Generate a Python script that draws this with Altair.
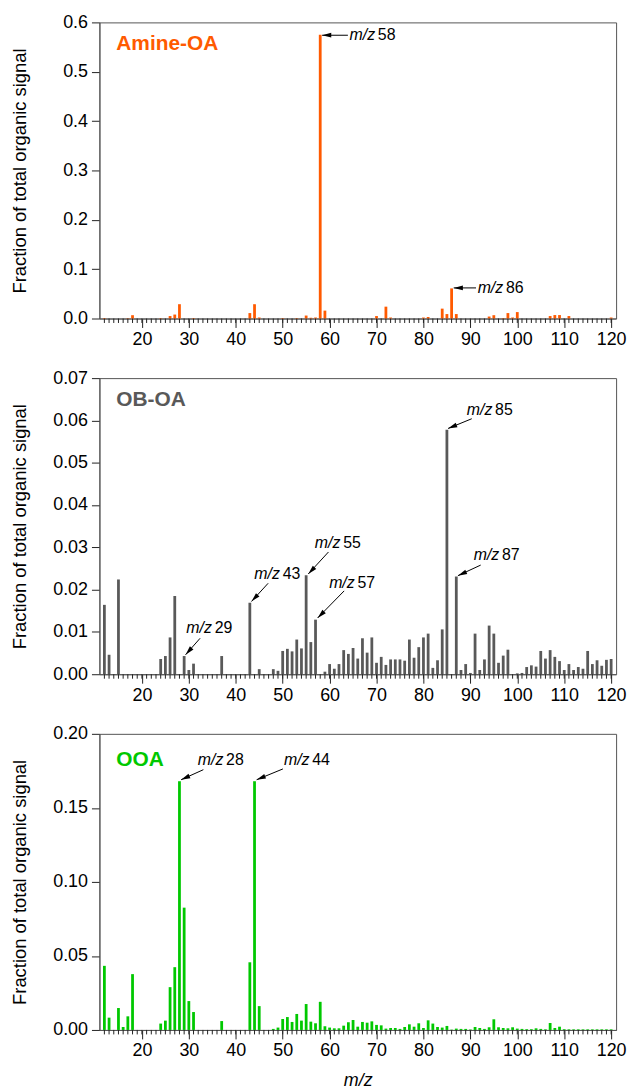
import math
import altair as alt
import pandas as pd

# ---------------- data ----------------
# Amine-OA spectrum
mz_amine = [12, 17, 18, 24, 26, 27, 28, 31, 43, 44,
            45, 50, 53, 55, 56, 57, 58, 59, 70, 72,
            73, 80, 81, 84, 85, 86, 87, 94, 95, 97,
            98, 99, 100, 107, 108, 109, 111, 120]
val_amine = [0.0010, 0.0008, 0.0067, 0.0008, 0.0050, 0.0080, 0.0290, 0.0010, 0.0110, 0.0290,
             0.0020, 0.0010, 0.0010, 0.0060, 0.0015, 0.0020, 0.5750, 0.0160, 0.0050, 0.0240,
             0.0020, 0.0020, 0.0030, 0.0200, 0.0090, 0.0610, 0.0090, 0.0040, 0.0067, 0.0010,
             0.0110, 0.0020, 0.0130, 0.0050, 0.0070, 0.0070, 0.0050, 0.0020]

# OB-OA spectrum
mz_oboa = ([12, 13, 15, 24, 25, 26, 27, 29, 30, 31, 37, 43, 45]
           + list(range(48, 58)) + list(range(59, 86))
           + list(range(87, 99)) + list(range(100, 121)))
val_oboa = [0.0164, 0.0046, 0.0224, 0.0036, 0.0043, 0.0087, 0.0185, 0.0043, 0.0010, 0.0025, 0.0043, 0.0169, 0.0012,
            # 48-57
            0.0012, 0.0008, 0.0055, 0.0060, 0.0054, 0.0082, 0.0061, 0.0234, 0.0076, 0.0129,
            # 59-68
            0.0006, 0.0024, 0.0013, 0.0024, 0.0057, 0.0048, 0.0062, 0.0037, 0.0085, 0.0051,
            # 69-78
            0.0087, 0.0027, 0.0041, 0.0022, 0.0035, 0.0035, 0.0035, 0.0032, 0.0082, 0.0039,
            # 79-85
            0.0064, 0.0087, 0.0096, 0.0015, 0.0033, 0.0106, 0.0578,
            # 87-98
            0.0231, 0.0010, 0.0024, 0.0003, 0.0096, 0.0010, 0.0035, 0.0115, 0.0096, 0.0027, 0.0044, 0.0058,
            # 100-109
            0.0002, 0.0003, 0.0017, 0.0021, 0.0018, 0.0055, 0.0037, 0.0057, 0.0041, 0.0031,
            # 110-120
            0.0010, 0.0024, 0.0010, 0.0017, 0.0013, 0.0055, 0.0024, 0.0033, 0.0020, 0.0034, 0.0036]

# OOA spectrum
mz_ooa = ([12, 13, 15, 16, 17, 18] + list(range(24, 32)) + [37, 43, 44, 45]
          + list(range(48, 121)))
val_ooa = [0.0433, 0.0083, 0.0148, 0.0020, 0.0092, 0.0377,
           # 24-31
           0.0043, 0.0063, 0.0289, 0.0424, 0.1680, 0.0826, 0.0195, 0.0121,
           # 37, 43, 44, 45
           0.0060, 0.0457, 0.1680, 0.0161,
           # 48-57
           0.0007, 0.0016, 0.0074, 0.0087, 0.0054, 0.0108, 0.0063, 0.0175, 0.0056, 0.0045,
           # 58-67
           0.0190, 0.0025, 0.0016, 0.0011, 0.0011, 0.0029, 0.0052, 0.0067, 0.0022, 0.0054,
           # 68-77
           0.0049, 0.0058, 0.0034, 0.0031, 0.0009, 0.0013, 0.0013, 0.0007, 0.0020, 0.0038,
           # 78-87
           0.0022, 0.0045, 0.0013, 0.0065, 0.0043, 0.0020, 0.0016, 0.0027, 0.0002, 0.0009,
           # 88-97
           0.0007, 0.0007, 0.0003, 0.0020, 0.0013, 0.0007, 0.0018, 0.0072, 0.0018, 0.0013,
           # 98-107
           0.0011, 0.0018, 0.0009, 0.0007, 0.0005, 0.0005, 0.0011, 0.0007, 0.0004, 0.0047,
           # 108-117
           0.0013, 0.0022, 0.0005, 0.0004, 0.0004, 0.0004, 0.0004, 0.0004, 0.0004, 0.0004,
           # 118-120
           0.0004, 0.0004, 0.0004]

# annotations: label number, arrow head (x, y), arrow tail (x, y), label left/center (x, y)
ann_amine = dict(num=["58", "86"],
                 hx=[58.40, 86.45], hy=[0.574, 0.062],
                 tx=[63.90, 91.20], ty=[0.574, 0.062],
                 lx=[64.25, 91.55], ly=[0.574, 0.062])
ann_oboa = dict(num=["85", "87", "55", "57", "43", "29"],
                hx=[85.25, 87.35, 55.45, 57.45, 43.35, 29.30],
                hy=[0.0581, 0.0233, 0.0237, 0.0133, 0.0172, 0.0046],
                tx=[90.30, 92.20, 59.76, 63.10, 46.90, 32.40],
                ty=[0.0604, 0.0258, 0.0289, 0.0197, 0.0215, 0.0085],
                lx=[89.24, 90.70, 56.85, 59.90, 43.96, 29.46],
                ly=[0.0624, 0.0281, 0.0310, 0.0215, 0.0236, 0.0110])
ann_ooa = dict(num=["28", "44"],
               hx=[28.35, 44.45], hy=[0.169, 0.169],
               tx=[33.10, 50.05], ty=[0.1758, 0.1763],
               lx=[31.90, 50.26], ly=[0.1822, 0.1822])

x_ticks = [20, 30, 40, 50, 60, 70, 80, 90, 100, 110, 120]
minor_ticks = list(range(12, 121))
y_ticks_amine = [0.0, 0.1, 0.2, 0.3, 0.4, 0.5, 0.6]
y_ticks_oboa = [0.0, 0.01, 0.02, 0.03, 0.04, 0.05, 0.06, 0.07]
y_ticks_ooa = [0.0, 0.05, 0.10, 0.15, 0.20]

# ---------------- layout / style ----------------
W, H = 520, 298
XDOM = [12, 120]
FONT = "Liberation Sans"
ORANGE = "#FF5A00"
GREY = "#595959"
GREEN = "#00C800"
ARROW_PATH = "M0,0L-0.26,1L0.26,1Z"


def make_panel(mz, vals, color, ymax, yticks, yfmt, name, name_y, ann, xtitle):
    xscale = alt.Scale(domain=XDOM, nice=False, zero=False)
    yscale = alt.Scale(domain=[0, ymax], nice=False, zero=True)
    df = pd.DataFrame({"mz": mz, "v": vals})

    xaxis = alt.Axis(values=x_ticks, format="d", tickSize=9, labelPadding=3,
                     labelFontSize=18, labelFont=FONT, labelColor="black",
                     tickColor="#222222", domainColor="#555555", grid=False,
                     title=xtitle, titleFont=FONT, titleFontSize=18,
                     titleFontStyle="italic", titleFontWeight="normal",
                     titleColor="black", titlePadding=12)
    yaxis = alt.Axis(values=yticks, format=yfmt, tickSize=8, labelPadding=4,
                     labelFontSize=18, labelFont=FONT, labelColor="black",
                     tickColor="#222222", domainColor="#555555", grid=False,
                     title="Fraction of total organic signal", titleFont=FONT,
                     titleFontSize=18.5, titleFontWeight="normal", titleColor="black",
                     titlePadding=25, minExtent=45, maxExtent=45)

    def X(field):
        return alt.X(field, scale=xscale, axis=xaxis)

    def Y(field):
        return alt.Y(field, scale=yscale, axis=yaxis)

    bars = alt.Chart(df).mark_bar(color=color, width=2.8).encode(
        x=X("mz:Q"), y=Y("v:Q"),
    )

    minor = alt.Chart(pd.DataFrame({"t": minor_ticks})).mark_rule(
        color="#222222", strokeWidth=1
    ).encode(
        x=X("t:Q"),
        y=alt.value(H),
        y2=alt.value(H + 4.5),
    )

    adf = pd.DataFrame(ann)
    px_x = W / (XDOM[1] - XDOM[0])
    px_y = H / ymax
    adf["ang"] = [
        math.degrees(math.atan2((hx - tx) * px_x, (hy - ty) * px_y)) % 360
        for hx, hy, tx, ty in zip(adf.hx, adf.hy, adf.tx, adf.ty)
    ]

    lines = alt.Chart(adf).mark_rule(color="black", strokeWidth=1).encode(
        x=X("tx:Q"), y=Y("ty:Q"), x2="hx:Q", y2="hy:Q",
    )
    heads = alt.Chart(adf).mark_point(
        shape=ARROW_PATH, filled=True, color="black", size=340, opacity=1, strokeWidth=0
    ).encode(
        x=X("hx:Q"), y=Y("hy:Q"),
        angle=alt.Angle("ang:Q", scale=None),
    )
    mztxt = alt.Chart(adf).mark_text(
        text="m/z", fontStyle="italic", align="left", baseline="middle",
        font=FONT, fontSize=16, color="black"
    ).encode(x=X("lx:Q"), y=Y("ly:Q"))
    numtxt = alt.Chart(adf).mark_text(
        align="left", baseline="middle", dx=28.5,
        font=FONT, fontSize=16, color="black"
    ).encode(x=X("lx:Q"), y=Y("ly:Q"), text="num:N")
    nametxt = alt.Chart(pd.DataFrame({"n": [name]})).mark_text(
        align="left", baseline="middle", font=FONT, fontSize=21,
        fontWeight="bold", color=color
    ).encode(
        x=alt.value(17), y=alt.value(name_y), text="n:N"
    )

    return alt.layer(bars, minor, lines, heads, mztxt, numtxt, nametxt).properties(
        width=W, height=H
    )


p1 = make_panel(mz_amine, val_amine, ORANGE, 0.6, y_ticks_amine, ".1f",
                "Amine-OA", 22, ann_amine, None)
p2 = make_panel(mz_oboa, val_oboa, GREY, 0.07, y_ticks_oboa, ".2f",
                "OB-OA", 22, ann_oboa, None)
p3 = make_panel(mz_ooa, val_ooa, GREEN, 0.20, y_ticks_ooa, ".2f",
                "OOA", 26, ann_ooa, "m/z")

chart = alt.vconcat(p1, p2, p3, spacing=19).properties(
    padding={"left": 2, "top": 1, "right": 5, "bottom": 5}
).configure_view(stroke="#555555", strokeWidth=1)

chart.save("out.html", embed_options={"renderer": "svg", "actions": False})
